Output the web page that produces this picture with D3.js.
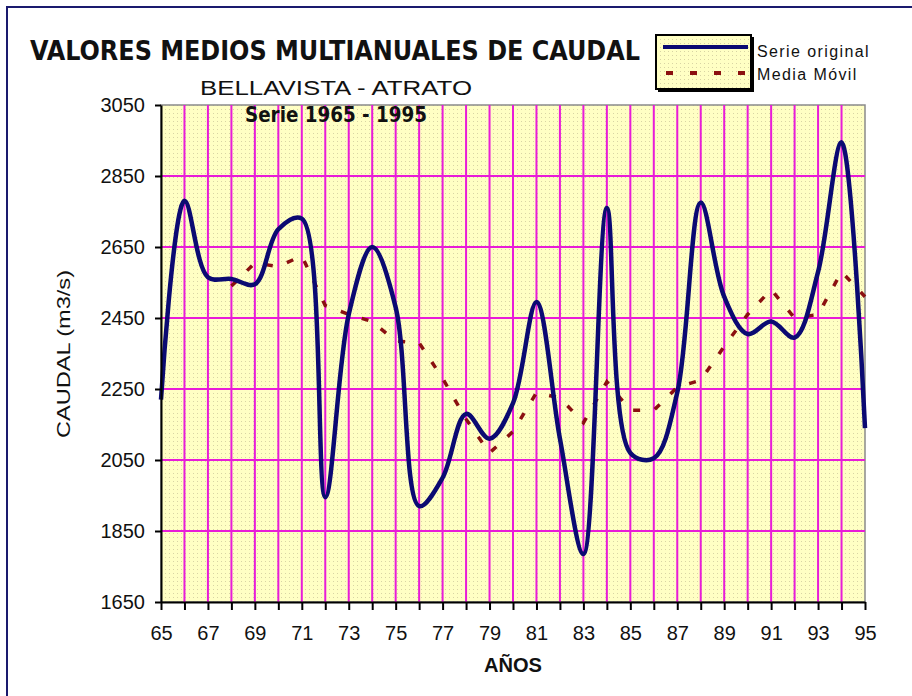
<!DOCTYPE html>
<html>
  <head>
    <meta charset="utf-8">
    <script src="https://cdn.jsdelivr.net/npm/d3@7/dist/d3.min.js"></script>
    <style>
      body { margin: 0; background: #ffffff; }
      text { font-family: "Liberation Sans", Arial, sans-serif; fill: #111; }
    </style>
  </head>
  <body>
    <script>

    // Values (years are 19xx)
    var years = [65, 66, 67, 68, 69, 70, 71, 72, 73, 74, 75, 76, 77, 78, 79, 80,
                 81, 82, 83, 84, 85, 86, 87, 88, 89, 90, 91, 92, 93, 94, 95];
    var caudal = [2220, 2780, 2565, 2560, 2545, 2700, 2730, 1945, 2460, 2650, 2480,
                  1920, 2000, 2180, 2110, 2210, 2495, 2110, 1785, 2760, 2070, 2055,
                  2240, 2775, 2510, 2405, 2440, 2395, 2580, 2945, 2140];
    var mediaMovil = [null, null, null, 2540, 2605, 2595, 2625, 2485, 2460, 2440, 2385,
                      2380, 2280, 2165, 2070, 2130, 2240, 2225, 2155, 2270, 2190, 2190,
                      2255, 2275, 2370, 2460, 2530, 2450, 2460, 2580, 2510];
    var yTicks = [1650, 1850, 2050, 2250, 2450, 2650, 2850, 3050];
    var xTickLabels = [65, 67, 69, 71, 73, 75, 77, 79, 81, 83, 85, 87, 89, 91, 93, 95];

    // Sizes
    var width = 912, height = 696;
    var margin = {top: 105, right: 47, bottom: 94, left: 161};
    var w = width - margin.left - margin.right;
    var h = height - margin.top - margin.bottom;

    var svg = d3.select("body").append("svg")
      .attr("width", width)
      .attr("height", height);

    // Dotted yellow fill like the old Excel pattern
    var defs = svg.append("defs");
    var pat = defs.append("pattern")
      .attr("id", "dots")
      .attr("width", 4).attr("height", 4)
      .attr("patternUnits", "userSpaceOnUse");
    pat.append("rect").attr("width", 4).attr("height", 4).attr("fill", "#FFFFC4");
    pat.append("rect").attr("width", 1).attr("height", 1).attr("fill", "#D8D4A4");

    // Outer frame, only top and left show in the picture
    svg.append("line").attr("x1", 6).attr("x2", width).attr("y1", 7).attr("y2", 7)
      .attr("stroke", "#1a1a6e").attr("stroke-width", 2);
    svg.append("line").attr("x1", 7).attr("x2", 7).attr("y1", 6).attr("y2", height)
      .attr("stroke", "#1a1a6e").attr("stroke-width", 2);

    // Scales
    var x = d3.scaleLinear().domain([65, 95]).range([0, w]);
    var y = d3.scaleLinear().domain([1650, 3050]).range([h, 0]);

    var g = svg.append("g")
      .attr("transform", "translate(" + margin.left + "," + margin.top + ")");

    // Plot background
    g.append("rect")
      .attr("width", w).attr("height", h)
      .attr("fill", "url(#dots)")
      .attr("stroke", "#8a8a8a").attr("stroke-width", 1.5);

    // Grid lines in magenta
    g.selectAll(".vgrid")
      .data(years.slice(1, -1))
      .enter().append("line")
        .attr("class", "vgrid")
        .attr("x1", function(d) { return x(d); })
        .attr("x2", function(d) { return x(d); })
        .attr("y1", 0).attr("y2", h)
        .attr("stroke", "#E81CD8").attr("stroke-width", 2);

    g.selectAll(".hgrid")
      .data(yTicks.slice(1, -1))
      .enter().append("line")
        .attr("class", "hgrid")
        .attr("x1", 0).attr("x2", w)
        .attr("y1", function(d) { return y(d); })
        .attr("y2", function(d) { return y(d); })
        .attr("stroke", "#E81CD8").attr("stroke-width", 2);

    // Moving average, straight dashed segments
    var lineMA = d3.line()
      .defined(function(d) { return d[1] != null; })
      .x(function(d) { return x(d[0]); })
      .y(function(d) { return y(d[1]); });

    g.append("path")
      .datum(d3.zip(years, mediaMovil))
      .attr("d", lineMA)
      .attr("fill", "none")
      .attr("stroke", "#8B1010")
      .attr("stroke-width", 3.5)
      .attr("stroke-dasharray", "7,15");

    // Original series, smoothed
    var lineSerie = d3.line()
      .curve(d3.curveCatmullRom.alpha(0.5))
      .x(function(d) { return x(d[0]); })
      .y(function(d) { return y(d[1]); });

    g.append("path")
      .datum(d3.zip(years, caudal))
      .attr("d", lineSerie)
      .attr("fill", "none")
      .attr("stroke", "#0B0A72")
      .attr("stroke-width", 4.5)
      .attr("stroke-linejoin", "round");

    // Axes
    var yAxis = d3.axisLeft(y)
      .tickValues(yTicks)
      .tickSize(6)
      .tickSizeOuter(0)
      .tickPadding(10)
      .tickFormat(function(d) { return String(d); });

    var xAxis = d3.axisBottom(x)
      .tickValues(years)
      .tickSize(8)
      .tickSizeOuter(0)
      .tickPadding(16)
      .tickFormat(function(d) { return xTickLabels.indexOf(d) >= 0 ? d : ""; });

    var gy = g.append("g").call(yAxis);
    var gx = g.append("g").attr("transform", "translate(0," + h + ")").call(xAxis);

    [gx, gy].forEach(function(a) {
      a.select(".domain").attr("stroke", "#000").attr("stroke-width", 2);
      a.selectAll(".tick line").attr("stroke", "#000").attr("stroke-width", 2);
      a.selectAll(".tick text")
        .attr("fill", "#111")
        .style("font-family", "'Liberation Sans', Arial, sans-serif")
        .style("font-size", "20px");
    });

    // Titles
    svg.append("text")
      .attr("x", 30).attr("y", 60)
      .attr("textLength", 610).attr("lengthAdjust", "spacingAndGlyphs")
      .style("font-family", "'Liberation Sans Narrow', 'DejaVu Sans Condensed', Arial, sans-serif")
      .style("font-size", "27px").style("font-weight", "bold")
      .text("VALORES MEDIOS MULTIANUALES DE CAUDAL");

    svg.append("text")
      .attr("x", 200).attr("y", 95)
      .attr("textLength", 272).attr("lengthAdjust", "spacingAndGlyphs")
      .style("font-size", "20px")
      .text("BELLAVISTA  -  ATRATO");

    svg.append("text")
      .attr("x", 245).attr("y", 122)
      .attr("textLength", 182).attr("lengthAdjust", "spacingAndGlyphs")
      .style("font-family", "'Liberation Sans Narrow', 'DejaVu Sans Condensed', Arial, sans-serif")
      .style("font-size", "21px").style("font-weight", "bold")
      .text("Serie 1965 - 1995");

    // Axis titles
    svg.append("text")
      .attr("transform", "translate(70," + 354 + ")rotate(-90)")
      .attr("text-anchor", "middle")
      .attr("textLength", 168).attr("lengthAdjust", "spacingAndGlyphs")
      .style("font-size", "19px")
      .text("CAUDAL (m3/s)");

    svg.append("text")
      .attr("x", margin.left + w / 2).attr("y", 672)
      .attr("text-anchor", "middle")
      .attr("textLength", 58).attr("lengthAdjust", "spacingAndGlyphs")
      .style("font-size", "21px").style("font-weight", "900")
      .text("AÑOS");

    // Legend
    var leg = svg.append("g").attr("transform", "translate(656,35)");
    leg.append("rect")
      .attr("x", 2).attr("y", 2).attr("width", 96).attr("height", 55)
      .attr("fill", "#000");
    leg.append("rect")
      .attr("width", 95).attr("height", 54)
      .attr("fill", "url(#dots)")
      .attr("stroke", "#000").attr("stroke-width", 2);
    leg.append("line")
      .attr("x1", 7).attr("x2", 92).attr("y1", 12).attr("y2", 12)
      .attr("stroke", "#0B0A72").attr("stroke-width", 4);
    leg.append("line")
      .attr("x1", 10).attr("x2", 92).attr("y1", 38).attr("y2", 38)
      .attr("stroke", "#8B1010").attr("stroke-width", 4)
      .attr("stroke-dasharray", "7,17");

    leg.append("text")
      .attr("x", 101).attr("y", 22)
      .style("font-size", "16px").style("letter-spacing", "1.4px")
      .text("Serie original");
    leg.append("text")
      .attr("x", 101).attr("y", 45)
      .style("font-size", "16px").style("letter-spacing", "1.4px")
      .text("Media Móvil");

    </script>
  </body>
</html>
